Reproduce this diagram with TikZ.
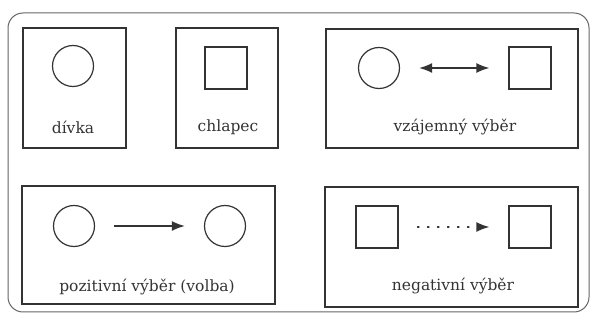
\documentclass[tikz,border=0pt]{standalone}
\usepackage{fontspec}
\setmainfont{DejaVu Serif}
\usetikzlibrary{arrows.meta}
\definecolor{ink}{HTML}{333333}
\definecolor{frame}{HTML}{666666}
\tikzset{
  panel/.style={draw=ink,line width=1.4pt},
  girl/.style={draw=ink,line width=1.2pt,circle,minimum size=41pt,inner sep=0pt},
  boy/.style={draw=ink,line width=1.2pt,rectangle,minimum size=42pt,inner sep=0pt},
  lbl/.style={text=ink,font=\fontsize{15.5}{18}\selectfont},
  link/.style={draw=ink,line width=1.5pt,shorten >=19pt,shorten <=19pt},
  tip/.style={-{Latex[length=13pt,width=10pt]}},
  dots/.style={dash pattern=on 1.3pt off 8.7pt,line cap=round}
}
\begin{document}
\begin{tikzpicture}[x=1pt,y=-1pt]
\useasboundingbox (0,0) rectangle (592,320);
\draw[frame,line width=1pt,rounded corners=15pt] (8,13) rectangle (589,312);
% panels
\draw[panel] (23,28) rectangle (126,148);
\draw[panel] (176,28) rectangle (278,148);
\draw[panel] (326,29) rectangle (578,148);
\draw[panel] (22,186) rectangle (275,304);
\draw[panel] (325,187) rectangle (578,307);
% panel 1
\node[girl] (g1) at (73,66) {};
\node[lbl] (t1) at (73,127) {dívka};
% panel 2
\node[boy] (b1) at (226,68) {};
\node[lbl] (t2) at (228,127) {chlapec};
% panel 3
\node[girl] (g2) at (379,68) {};
\node[boy] (b2) at (530,68) {};
\draw[link,{Latex[length=13pt,width=10pt]}-{Latex[length=13pt,width=10pt]}] (g2) -- (b2);
\node[lbl] (t3) at (455,127) {vzájemný výběr};
% panel 4
\node[girl] (g3) at (74,226) {};
\node[girl] (g4) at (225,226) {};
\draw[link,tip] (g3) -- (g4);
\node[lbl] (t4) at (147,287) {pozitivní výběr (volba)};
% panel 5
\node[boy] (b3) at (377,227) {};
\node[boy] (b4) at (530,227) {};
\draw[link,dots,-{Latex[length=13pt,width=10pt]}] (b3) -- (b4);
\node[lbl] (t5) at (453,286) {negativní výběr};
\end{tikzpicture}
\end{document}
